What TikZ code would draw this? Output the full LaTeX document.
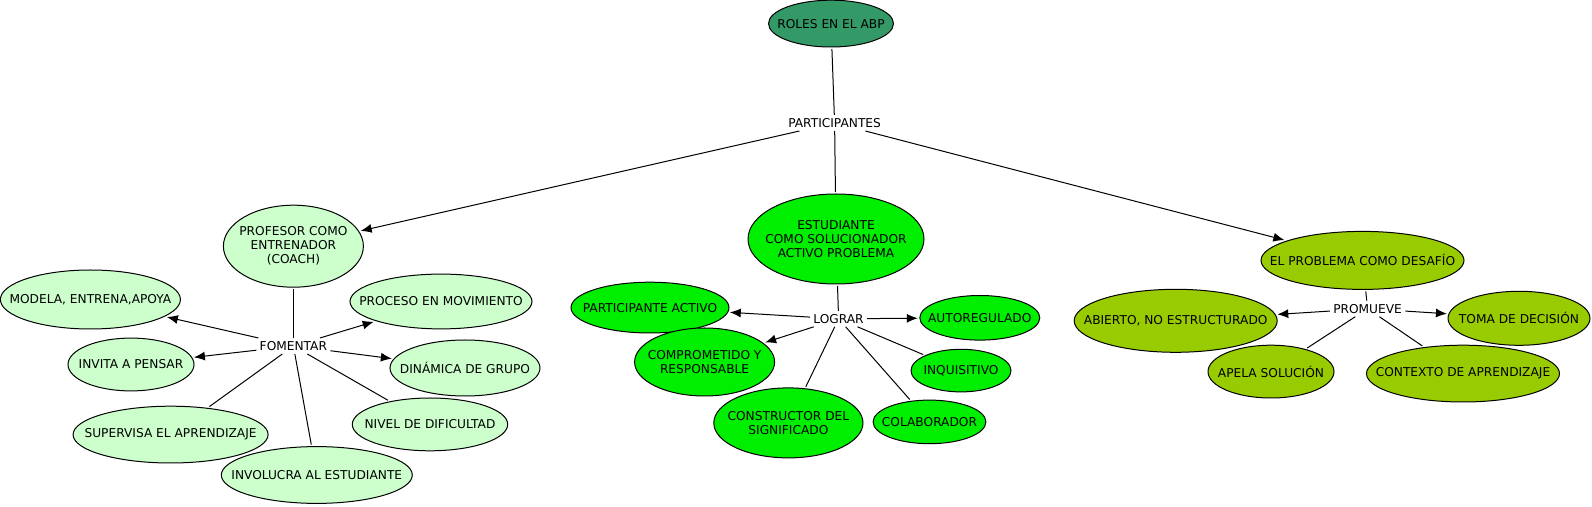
\documentclass[tikz,border=0pt]{standalone}
\usepackage{fontspec}
\setmainfont{DejaVu Sans}
\usetikzlibrary{shapes.geometric,arrows.meta}
\definecolor{rolesgreen}{HTML}{339966}
\definecolor{teacher}{HTML}{CCFFCC}
\definecolor{student}{HTML}{00EE00}
\definecolor{problem}{HTML}{99CC00}

\begin{document}
\begin{tikzpicture}[x=0.5pt,y=-0.5pt,
  txt/.style={inner sep=0pt,align=center,font=\fontsize{6.1}{7}\selectfont},
  concept/.style={ellipse,draw,line width=0.5pt,inner sep=0pt,outer sep=1pt},
  link/.style={inner sep=1.5pt,font=\fontsize{6.1}{7}\selectfont},
  conn/.style={line width=0.5pt},
  arr/.style={conn,-{Latex[length=5.5pt,width=4.5pt]}}]
  \useasboundingbox (0,0) rectangle (1592,507);

  % top
  \node[concept,fill=rolesgreen,minimum width=62.5pt,minimum height=23.4pt,label={[txt]center:{ROLES EN EL ABP}}] (roles) at (831,23.6) {};
  \node[link] (part) at (834.6,123) {PARTICIPANTES};

  % main concepts
  \node[concept,fill=teacher,minimum width=70pt,minimum height=41pt,label={[txt]center:{PROFESOR COMO\\ENTRENADOR\\(COACH)}}] (prof) at (293.4,246.2) {};
  \node[concept,fill=student,minimum width=88pt,minimum height=45pt,label={[txt]center:{ESTUDIANTE\\COMO SOLUCIONADOR\\ACTIVO PROBLEMA}}] (est) at (836,239) {};
  \node[concept,fill=problem,minimum width=101.5pt,minimum height=29pt,label={[txt]center:{EL PROBLEMA COMO DESAFÍO}}] (prob) at (1362.5,260.4) {};

  % profesor
  \node[link] (fom) at (293.4,346) {FOMENTAR};
  \node[concept,fill=teacher,minimum width=90pt,minimum height=29.5pt,label={[txt]center:{MODELA, ENTRENA,APOYA}}] (mod) at (90.4,299.5) {};
  \node[concept,fill=teacher,minimum width=63pt,minimum height=26.4pt,label={[txt]center:{INVITA A PENSAR}}] (inv) at (131,364.5) {};
  \node[concept,fill=teacher,minimum width=97.5pt,minimum height=28.4pt,label={[txt]center:{SUPERVISA EL APRENDIZAJE}}] (sup) at (170.6,434.6) {};
  \node[concept,fill=teacher,minimum width=95.5pt,minimum height=28.4pt,label={[txt]center:{INVOLUCRA AL ESTUDIANTE}}] (invol) at (316.8,475) {};
  \node[concept,fill=teacher,minimum width=91pt,minimum height=27.4pt,label={[txt]center:{PROCESO EN MOVIMIENTO}}] (proc) at (441,301.5) {};
  \node[concept,fill=teacher,minimum width=75pt,minimum height=28pt,label={[txt]center:{DINÁMICA DE GRUPO}}] (din) at (465,368) {};
  \node[concept,fill=teacher,minimum width=77.7pt,minimum height=26.4pt,label={[txt]center:{NIVEL DE DIFICULTAD}}] (niv) at (430,424.4) {};

  % estudiante
  \node[link] (log) at (838.6,318.8) {LOGRAR};
  \node[concept,fill=student,minimum width=79pt,minimum height=25.4pt,label={[txt]center:{PARTICIPANTE ACTIVO}}] (pact) at (650,307.6) {};
  \node[concept,fill=student,minimum width=70pt,minimum height=34pt,label={[txt]center:{COMPROMETIDO Y\\RESPONSABLE}}] (comp) at (704.6,362) {};
  \node[concept,fill=student,minimum width=74.6pt,minimum height=35pt,label={[txt]center:{CONSTRUCTOR DEL\\SIGNIFICADO}}] (cons) at (788.4,422.9) {};
  \node[concept,fill=student,minimum width=56.4pt,minimum height=21.8pt,label={[txt]center:{COLABORADOR}}] (colab) at (929.5,421.9) {};
  \node[concept,fill=student,minimum width=50pt,minimum height=21.3pt,label={[txt]center:{INQUISITIVO}}] (inq) at (961,370.6) {};
  \node[concept,fill=student,minimum width=60pt,minimum height=22.3pt,label={[txt]center:{AUTOREGULADO}}] (auto) at (979.8,317.8) {};

  % problema
  \node[link] (prom) at (1367.6,308.7) {PROMUEVE};
  \node[concept,fill=problem,minimum width=101.5pt,minimum height=31.5pt,label={[txt]center:{ABIERTO, NO ESTRUCTURADO}}] (abi) at (1175.7,320.8) {};
  \node[concept,fill=problem,minimum width=71pt,minimum height=27pt,label={[txt]center:{TOMA DE DECISIÓN}}] (toma) at (1519,318.3) {};
  \node[concept,fill=problem,minimum width=63pt,minimum height=26.4pt,label={[txt]center:{APELA SOLUCIÓN}}] (apela) at (1271,371.6) {};
  \node[concept,fill=problem,minimum width=96.5pt,minimum height=28.4pt,label={[txt]center:{CONTEXTO DE APRENDIZAJE}}] (ctx) at (1463,373.6) {};

  % connectors
  \draw[conn] (roles) -- (part);
  \draw[arr] (part) -- (prof);
  \draw[conn] (part) -- (est);
  \draw[arr] (part) -- (prob);

  \draw[conn] (prof) -- (fom);
  \foreach \t in {mod,inv,proc,din} \draw[arr] (fom) -- (\t);
  \foreach \t in {sup,invol,niv} \draw[conn] (fom) -- (\t);

  \draw[conn] (est) -- (log);
  \foreach \t in {pact,comp,auto} \draw[arr] (log) -- (\t);
  \foreach \t in {cons,colab,inq} \draw[conn] (log) -- (\t);

  \draw[conn] (prob) -- (prom);
  \foreach \t in {abi,toma} \draw[arr] (prom) -- (\t);
  \foreach \t in {apela,ctx} \draw[conn] (prom) -- (\t);
\end{tikzpicture}
\end{document}
